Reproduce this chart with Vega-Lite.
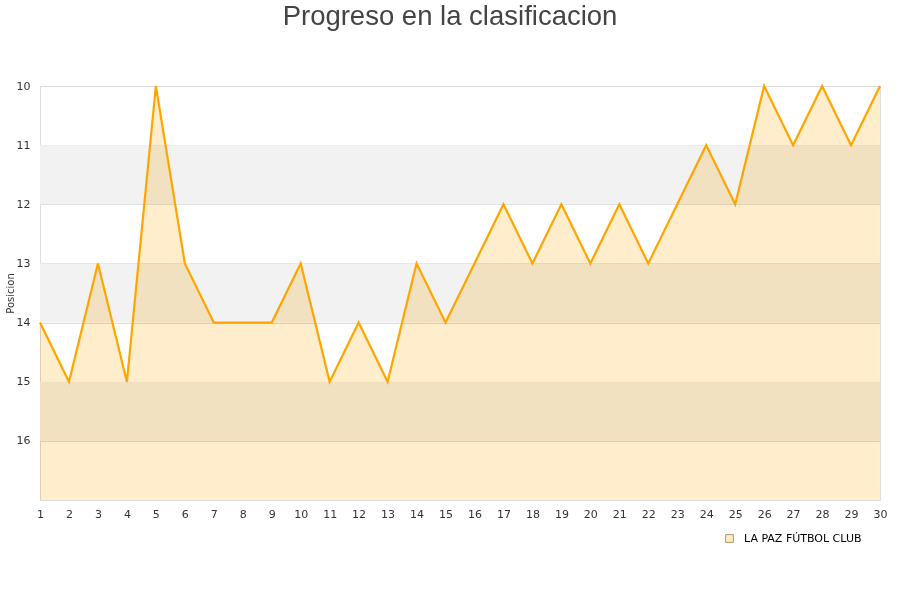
{
  "$schema": "https://vega.github.io/schema/vega-lite/v6.json",
  "width": 840,
  "height": 414,
  "autosize": {"type": "none"},
  "padding": {"left": 40, "top": 86, "right": 20, "bottom": 100},
  "background": "white",
  "view": {"stroke": "#dddddd"},
  "title": {
    "text": "Progreso en la clasificacion",
    "font": "Liberation Sans",
    "fontSize": 27.5,
    "fontWeight": "normal",
    "color": "#444444",
    "anchor": "middle",
    "dx": -10,
    "offset": 50
  },
  "config": {
    "axis": {
      "labelFont": "DejaVu Sans",
      "labelFontSize": 11,
      "labelColor": "#333333",
      "labelOverlap": false,
      "ticks": false,
      "domain": false,
      "titleFont": "DejaVu Sans",
      "titleFontSize": 10,
      "titleFontWeight": "normal",
      "titleColor": "#333333"
    }
  },
  "datasets": {
    "bands": [
      {"from": 11, "to": 12},
      {"from": 13, "to": 14},
      {"from": 15, "to": 16}
    ],
    "posiciones": [
      {"jornada": 1, "posicion": 14, "equipo": "LA PAZ FÚTBOL CLUB"},
      {"jornada": 2, "posicion": 15, "equipo": "LA PAZ FÚTBOL CLUB"},
      {"jornada": 3, "posicion": 13, "equipo": "LA PAZ FÚTBOL CLUB"},
      {"jornada": 4, "posicion": 15, "equipo": "LA PAZ FÚTBOL CLUB"},
      {"jornada": 5, "posicion": 10, "equipo": "LA PAZ FÚTBOL CLUB"},
      {"jornada": 6, "posicion": 13, "equipo": "LA PAZ FÚTBOL CLUB"},
      {"jornada": 7, "posicion": 14, "equipo": "LA PAZ FÚTBOL CLUB"},
      {"jornada": 8, "posicion": 14, "equipo": "LA PAZ FÚTBOL CLUB"},
      {"jornada": 9, "posicion": 14, "equipo": "LA PAZ FÚTBOL CLUB"},
      {"jornada": 10, "posicion": 13, "equipo": "LA PAZ FÚTBOL CLUB"},
      {"jornada": 11, "posicion": 15, "equipo": "LA PAZ FÚTBOL CLUB"},
      {"jornada": 12, "posicion": 14, "equipo": "LA PAZ FÚTBOL CLUB"},
      {"jornada": 13, "posicion": 15, "equipo": "LA PAZ FÚTBOL CLUB"},
      {"jornada": 14, "posicion": 13, "equipo": "LA PAZ FÚTBOL CLUB"},
      {"jornada": 15, "posicion": 14, "equipo": "LA PAZ FÚTBOL CLUB"},
      {"jornada": 16, "posicion": 13, "equipo": "LA PAZ FÚTBOL CLUB"},
      {"jornada": 17, "posicion": 12, "equipo": "LA PAZ FÚTBOL CLUB"},
      {"jornada": 18, "posicion": 13, "equipo": "LA PAZ FÚTBOL CLUB"},
      {"jornada": 19, "posicion": 12, "equipo": "LA PAZ FÚTBOL CLUB"},
      {"jornada": 20, "posicion": 13, "equipo": "LA PAZ FÚTBOL CLUB"},
      {"jornada": 21, "posicion": 12, "equipo": "LA PAZ FÚTBOL CLUB"},
      {"jornada": 22, "posicion": 13, "equipo": "LA PAZ FÚTBOL CLUB"},
      {"jornada": 23, "posicion": 12, "equipo": "LA PAZ FÚTBOL CLUB"},
      {"jornada": 24, "posicion": 11, "equipo": "LA PAZ FÚTBOL CLUB"},
      {"jornada": 25, "posicion": 12, "equipo": "LA PAZ FÚTBOL CLUB"},
      {"jornada": 26, "posicion": 10, "equipo": "LA PAZ FÚTBOL CLUB"},
      {"jornada": 27, "posicion": 11, "equipo": "LA PAZ FÚTBOL CLUB"},
      {"jornada": 28, "posicion": 10, "equipo": "LA PAZ FÚTBOL CLUB"},
      {"jornada": 29, "posicion": 11, "equipo": "LA PAZ FÚTBOL CLUB"},
      {"jornada": 30, "posicion": 10, "equipo": "LA PAZ FÚTBOL CLUB"}
    ]
  },
  "layer": [
    {
      "data": {"name": "bands"},
      "mark": {"type": "rect", "color": "#f2f2f2"},
      "encoding": {
        "y": {
          "field": "from",
          "type": "quantitative",
          "scale": {"domain": [10, 17], "reverse": true, "nice": false, "zero": false},
          "axis": {
            "title": "Posicion",
            "values": [10, 11, 12, 13, 14, 15, 16],
            "format": "d",
            "grid": true,
            "gridColor": "#dddddd",
            "labelOverlap": false,
            "labelPadding": 10,
            "titlePadding": 1
          }
        },
        "y2": {"field": "to"}
      }
    },
    {
      "data": {"name": "posiciones"},
      "mark": {"type": "area", "orient": "vertical", "interpolate": "linear", "blend": "multiply"},
      "encoding": {
        "x": {
          "field": "jornada",
          "type": "quantitative",
          "scale": {"domain": [1, 30], "nice": false, "zero": false},
          "axis": {
            "title": null,
            "values": [1, 2, 3, 4, 5, 6, 7, 8, 9, 10, 11, 12, 13, 14, 15, 16, 17, 18, 19, 20, 21, 22, 23, 24, 25, 26, 27, 28, 29, 30],
            "grid": false,
            "labelOverlap": false,
            "labelPadding": 8,
            "labelFlush": false
          }
        },
        "y": {
          "field": "posicion",
          "type": "quantitative",
          "axis": {
            "title": "Posicion",
            "values": [10, 11, 12, 13, 14, 15, 16],
            "format": "d",
            "grid": true,
            "gridColor": "#dddddd",
            "labelOverlap": false,
            "labelPadding": 10,
            "titlePadding": 1
          }
        },
        "y2": {"datum": 17},
        "fill": {
          "field": "equipo",
          "type": "nominal",
          "scale": {"range": ["#ffedcc"]},
          "legend": {
            "title": null,
            "orient": "none",
            "legendX": 684,
            "legendY": 447,
            "symbolType": "square",
            "symbolSize": 60,
            "symbolStrokeColor": "#b8945a",
            "symbolStrokeWidth": 1,
            "labelOffset": 9,
            "labelFont": "DejaVu Sans",
            "labelFontSize": 11,
            "labelColor": "#000000"
          }
        }
      }
    },
    {
      "data": {"name": "posiciones"},
      "mark": {"type": "line", "color": "#ffa500", "strokeWidth": 2.2},
      "encoding": {
        "x": {
          "field": "jornada",
          "type": "quantitative",
          "axis": {
            "title": null,
            "values": [1, 2, 3, 4, 5, 6, 7, 8, 9, 10, 11, 12, 13, 14, 15, 16, 17, 18, 19, 20, 21, 22, 23, 24, 25, 26, 27, 28, 29, 30],
            "grid": false,
            "labelOverlap": false,
            "labelPadding": 8,
            "labelFlush": false
          }
        },
        "y": {
          "field": "posicion",
          "type": "quantitative",
          "axis": {
            "title": "Posicion",
            "values": [10, 11, 12, 13, 14, 15, 16],
            "format": "d",
            "grid": true,
            "gridColor": "#dddddd",
            "labelOverlap": false,
            "labelPadding": 10,
            "titlePadding": 1
          }
        }
      }
    }
  ]
}
